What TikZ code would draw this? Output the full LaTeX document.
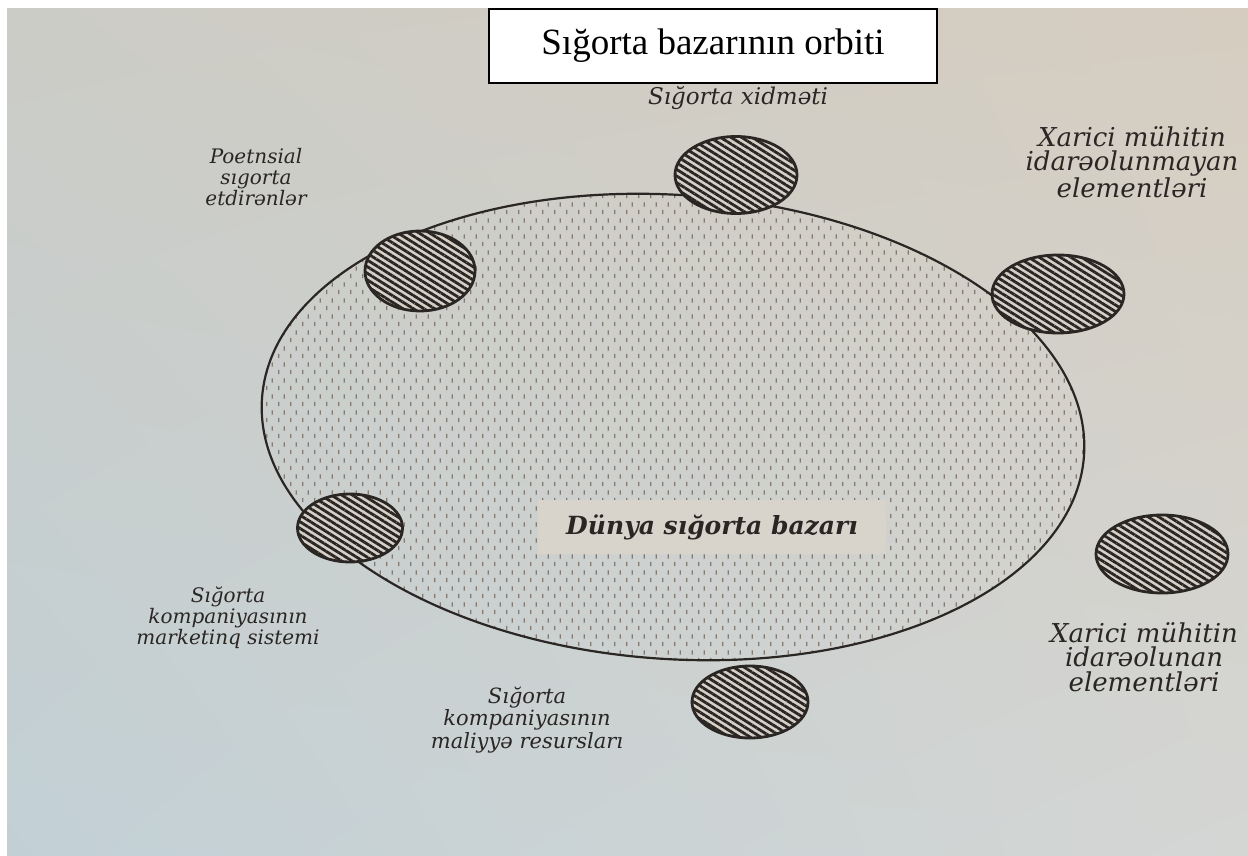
\documentclass[tikz,border=0pt]{standalone}
\usepackage{fontspec}
\setmainfont{Liberation Serif}
\newfontfamily\labfont{DejaVu Serif}
\usetikzlibrary{shapes.geometric,patterns.meta,shadings}

\definecolor{bgUL}{RGB}{204,204,198}
\definecolor{bgUR}{RGB}{214,205,192}
\definecolor{bgLL}{RGB}{194,208,214}
\definecolor{bgLR}{RGB}{212,214,212}
\definecolor{ink}{RGB}{42,38,36}
\definecolor{dotc}{RGB}{128,122,114}
\definecolor{band}{RGB}{216,211,203}
\definecolor{fillpaper}{RGB}{214,208,199}

\tikzdeclarepattern{
  name=vdash,
  type=uncolored,
  bottom left={(0pt,0pt)},
  top right={(12pt,16pt)},
  tile size={(12pt,16pt)},
  code={
    \pgfsetlinewidth{1.3pt}
    \pgfpathmoveto{\pgfpoint{3pt}{2pt}}\pgfpathlineto{\pgfpoint{3pt}{6.5pt}}
    \pgfpathmoveto{\pgfpoint{9pt}{10pt}}\pgfpathlineto{\pgfpoint{9pt}{14.5pt}}
    \pgfusepath{stroke}
  }
}

\tikzset{
  hatch/.style={ellipse, inner sep=0pt, draw=ink, line width=2.8pt,
    preaction={fill=fillpaper},
    pattern={Lines[angle=-32,distance=5.6pt,line width=2.8pt]}, pattern color=ink},
  lab/.style={font=\labfont\itshape\fontsize{20}{21}\selectfont, text=ink, align=center, inner sep=0pt},
  labmid/.style={lab, font=\labfont\itshape\fontsize{21}{22.5}\selectfont},
  labbig/.style={lab, font=\labfont\itshape\fontsize{26}{24.5}\selectfont},
}

\begin{document}
\begin{tikzpicture}[x=1pt,y=-1pt]
\useasboundingbox (0,0) rectangle (1248,856);
% photographed page background
\shade[upper left=bgUL, upper right=bgUR, lower left=bgLL, lower right=bgLR] (0,0) rectangle (1248,856);
\fill[white] (0,0) rectangle (1248,8);
\fill[white] (0,0) rectangle (7,856);

% world market
\node[ellipse, draw=ink, line width=2.2pt, minimum width=824pt, minimum height=464pt,
      inner sep=0pt, rotate=-4, pattern=vdash, pattern color=dotc] (world) at (673,427) {};
\node[font=\labfont\bfseries\itshape\fontsize{25}{28}\selectfont, text=ink, fill=band,
      inner xsep=28pt, inner ysep=14pt] (dunya) at (712,527) {Dünya sığorta bazarı};

% orbit elements
\node[hatch, minimum width=110pt, minimum height=80pt] (e1) at (420,271) {};
\node[hatch, minimum width=122pt, minimum height=77pt] (e2) at (736,175) {};
\node[hatch, minimum width=132pt, minimum height=78pt] (e3) at (1058,294) {};
\node[hatch, minimum width=132pt, minimum height=78pt] (e4) at (1162,554) {};
\node[hatch, minimum width=116pt, minimum height=72pt] (e5) at (750,702) {};
\node[hatch, minimum width=105pt, minimum height=68pt] (e6) at (350,528) {};

% labels
\node[lab] (l1) at (256,177) {Poetnsial\\sıgorta\\etdirənlər};
\node[labmid, font=\labfont\itshape\fontsize{23}{24}\selectfont] (l2) at (738,98) {Sığorta xidməti};
\node[labbig] (l3) at (1132,162) {Xarici mühitin\\idarəolunmayan\\elementləri};
\node[labbig] (l4) at (1144,657) {Xarici mühitin\\idarəolunan\\elementləri};
\node[lab] (l5) at (228,618) {Sığorta\\kompaniyasının\\marketinq sistemi};
\node[labmid] (l6) at (527,720) {Sığorta\\kompaniyasının\\maliyyə resursları};

% title
\node[draw=black, line width=1.6pt, fill=white, minimum width=448pt, minimum height=74pt,
      inner sep=0pt, font=\fontsize{37}{40}\selectfont] (title) at (713,46) {Sığorta bazarının orbiti};
\end{tikzpicture}
\end{document}
